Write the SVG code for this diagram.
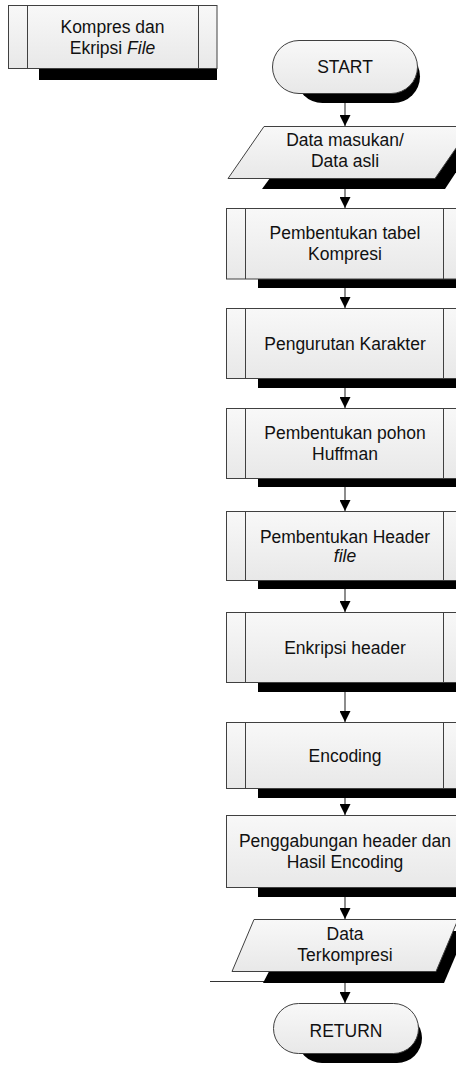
<svg xmlns="http://www.w3.org/2000/svg" width="456" height="1068" viewBox="0 0 456 1068">
<defs>
<linearGradient id="fill" x1="0" y1="0" x2="0" y2="1">
<stop offset="0" stop-color="#f8f8f8"/>
<stop offset="1" stop-color="#e8e8e8"/>
</linearGradient>
<marker id="arrow" markerUnits="userSpaceOnUse" markerWidth="11" markerHeight="11" refX="11" refY="5.5" orient="auto">
<path d="M0,0 L11,5.5 L0,11 Z" fill="#000"/>
</marker>
</defs>
<style>
.shape{fill:url(#fill);stroke:#404040;stroke-width:1}
.shadow{fill:#000;stroke:none}
.inner{stroke:#404040;stroke-width:1;fill:none}
.conn{stroke:#404040;stroke-width:1.2;fill:none;marker-end:url(#arrow)}
text{font-family:"Liberation Sans",Arial,sans-serif;font-size:17.5px;fill:#111;text-anchor:middle}
.it{font-style:italic}
</style>
<rect width="456" height="1068" fill="#fff"/>

<g id="connectors">
<line class="conn" x1="345" y1="93" x2="345" y2="126"/>
<line class="conn" x1="345" y1="178" x2="345" y2="208"/>
<line class="conn" x1="345" y1="279" x2="345" y2="308"/>
<line class="conn" x1="345" y1="378" x2="345" y2="408"/>
<line class="conn" x1="345" y1="478" x2="345" y2="511"/>
<line class="conn" x1="345" y1="580" x2="345" y2="612"/>
<line class="conn" x1="345" y1="682" x2="345" y2="722"/>
<line class="conn" x1="345" y1="788" x2="345" y2="815"/>
<line class="conn" x1="345" y1="887" x2="345" y2="919"/>
<line class="conn" x1="345" y1="971" x2="345" y2="1003"/>
<line x1="210" y1="981.5" x2="264" y2="981.5" stroke="#333" stroke-width="1"/>
</g>

<g id="title">
<rect class="shadow" x="39" y="15" width="178" height="65"/>
<rect class="shape" x="8.5" y="5.5" width="208.5" height="63"/>
<line class="inner" x1="27.5" y1="5.5" x2="27.5" y2="68.5"/>
<line class="inner" x1="198.5" y1="5.5" x2="198.5" y2="68.5"/>
<text x="112.5" y="32.5">Kompres dan</text>
<text x="112.5" y="53.5">Ekripsi <tspan class="it">File</tspan></text>
</g>

<g id="start">
<rect class="shadow" x="296" y="50" width="124" height="53" rx="26.5"/>
<rect class="shape" x="272.5" y="40.5" width="145" height="53" rx="26.5"/>
<text x="345" y="73">START</text>
</g>

<g id="data-masukan">
<polygon class="shadow" points="300,137 479,137 445,189 262,189"/>
<polygon class="shape" points="264,126.5 471,126.5 435,178.5 228,178.5"/>
<text x="345" y="146">Data masukan/</text>
<text x="345" y="167">Data asli</text>
</g>

<g id="tabel-kompresi">
<rect class="shadow" x="258" y="218" width="210" height="70"/>
<rect class="shape" x="226.5" y="208.5" width="238" height="70.5"/>
<line class="inner" x1="245.5" y1="208.5" x2="245.5" y2="279"/>
<line class="inner" x1="443.5" y1="208.5" x2="443.5" y2="279"/>
<text x="345" y="239">Pembentukan tabel</text>
<text x="345" y="260">Kompresi</text>
</g>

<g id="pengurutan">
<rect class="shadow" x="258" y="318" width="210" height="70"/>
<rect class="shape" x="226.5" y="308.5" width="238" height="70"/>
<line class="inner" x1="245.5" y1="308.5" x2="245.5" y2="378.5"/>
<line class="inner" x1="443.5" y1="308.5" x2="443.5" y2="378.5"/>
<text x="345" y="349.5">Pengurutan Karakter</text>
</g>

<g id="pohon-huffman">
<rect class="shadow" x="258" y="418" width="210" height="69"/>
<rect class="shape" x="226.5" y="408.5" width="238" height="70"/>
<line class="inner" x1="245.5" y1="408.5" x2="245.5" y2="478.5"/>
<line class="inner" x1="443.5" y1="408.5" x2="443.5" y2="478.5"/>
<text x="345" y="439">Pembentukan pohon</text>
<text x="345" y="460">Huffman</text>
</g>

<g id="header-file">
<rect class="shadow" x="258" y="521" width="210" height="68"/>
<rect class="shape" x="226.5" y="511.5" width="238" height="69"/>
<line class="inner" x1="245.5" y1="511.5" x2="245.5" y2="580.5"/>
<line class="inner" x1="443.5" y1="511.5" x2="443.5" y2="580.5"/>
<text x="345" y="542.5">Pembentukan Header</text>
<text x="345" y="562" class="it">file</text>
</g>

<g id="enkripsi-header">
<rect class="shadow" x="258" y="622" width="210" height="70"/>
<rect class="shape" x="226.5" y="612.5" width="238" height="70"/>
<line class="inner" x1="245.5" y1="612.5" x2="245.5" y2="682.5"/>
<line class="inner" x1="443.5" y1="612.5" x2="443.5" y2="682.5"/>
<text x="345" y="653.5">Enkripsi header</text>
</g>

<g id="encoding">
<rect class="shadow" x="258" y="732" width="210" height="66"/>
<rect class="shape" x="226.5" y="722.5" width="238" height="66"/>
<line class="inner" x1="245.5" y1="722.5" x2="245.5" y2="788.5"/>
<line class="inner" x1="443.5" y1="722.5" x2="443.5" y2="788.5"/>
<text x="345" y="761.5">Encoding</text>
</g>

<g id="penggabungan">
<rect class="shadow" x="258" y="825" width="210" height="72"/>
<rect class="shape" x="226.5" y="815.5" width="238" height="72"/>
<text x="345" y="847">Penggabungan header dan</text>
<text x="345" y="868">Hasil Encoding</text>
</g>

<g id="data-terkompresi">
<polygon class="shadow" points="290,931 466,931 444,983 263,983"/>
<polygon class="shape" points="254,919.5 458,919.5 436,971.5 232,971.5"/>
<text x="345" y="939.5">Data</text>
<text x="345" y="960.5">Terkompresi</text>
</g>

<g id="return">
<rect class="shadow" x="297" y="1013" width="125" height="50" rx="25"/>
<rect class="shape" x="273.5" y="1003.5" width="145" height="50" rx="25"/>
<text x="346" y="1037">RETURN</text>
</g>
</svg>
